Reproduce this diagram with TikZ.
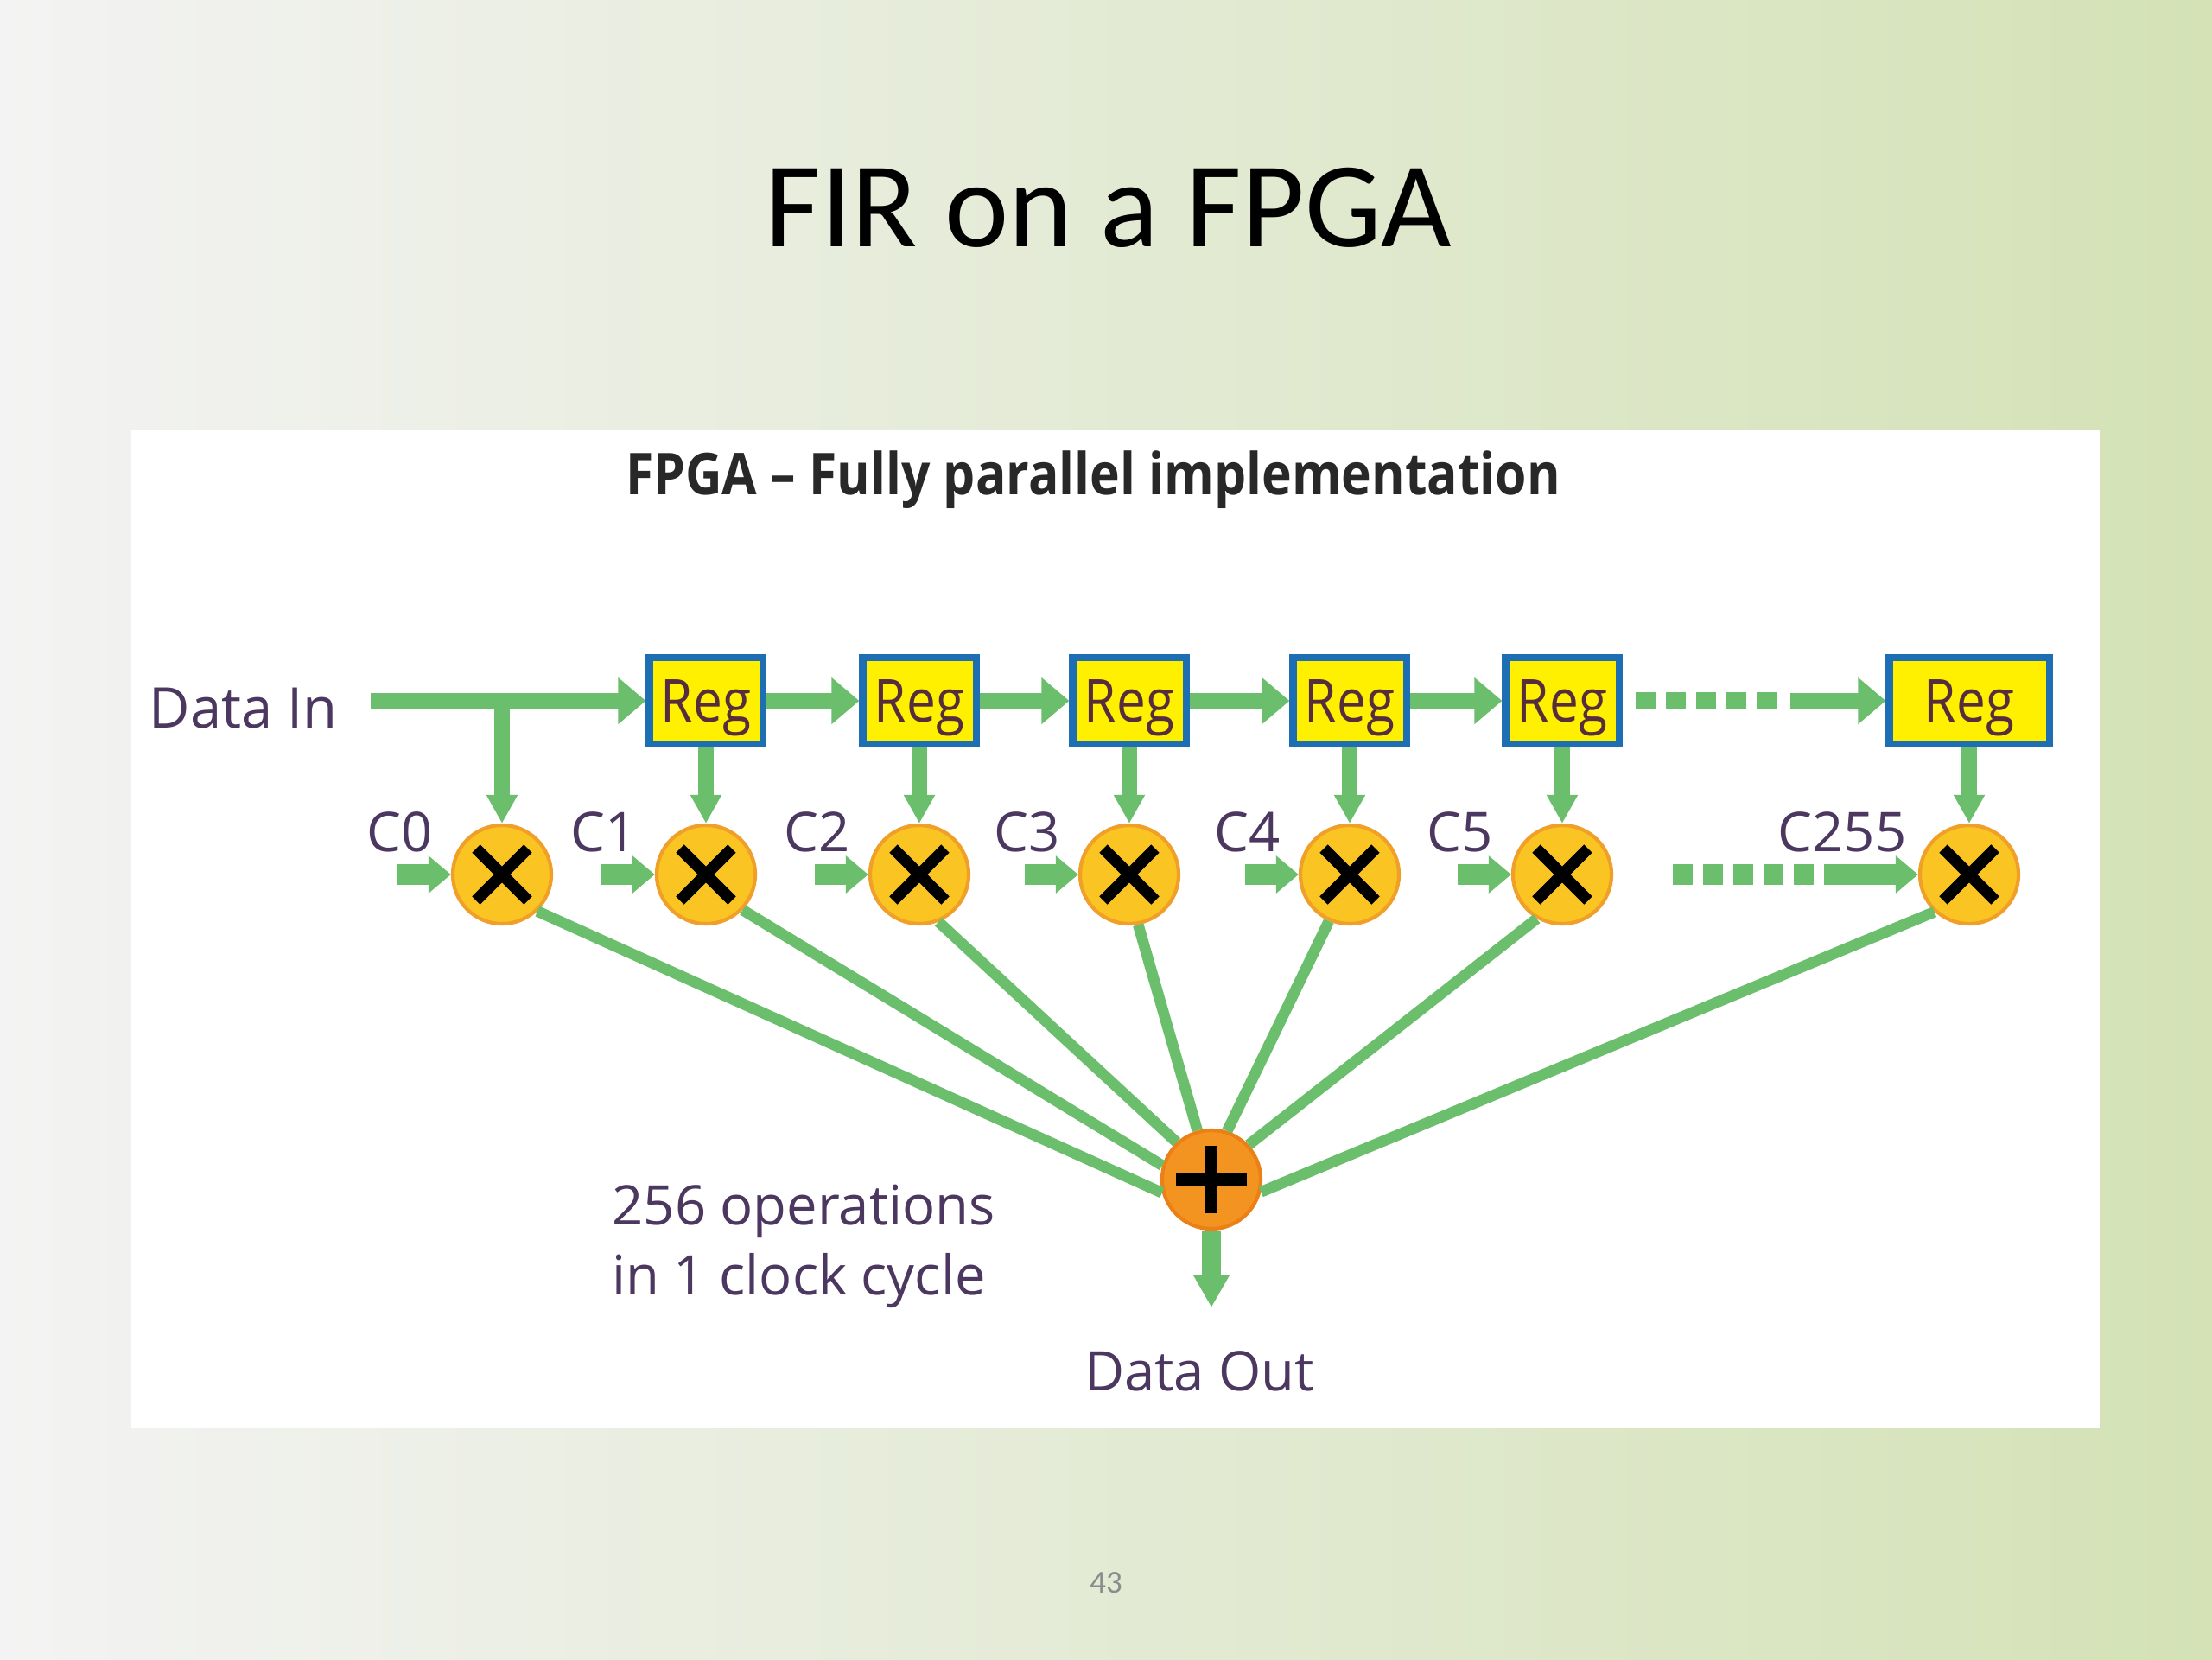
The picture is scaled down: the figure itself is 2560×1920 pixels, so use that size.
\documentclass[tikz,border=0pt]{standalone}
\usepackage{fontspec}
\setmainfont{Open Sans}
\newfontfamily\titlefont{Carlito}
\newfontfamily\narrowfont[FakeStretch=0.88]{Open Sans}
\usetikzlibrary{arrows.meta}
\definecolor{bgL}{RGB}{243,243,243}
\definecolor{bgR}{RGB}{212,226,182}
\definecolor{flow}{RGB}{106,190,108}
\definecolor{regblue}{RGB}{30,110,180}
\definecolor{regfill}{RGB}{255,240,0}
\definecolor{multfill}{RGB}{250,196,35}
\definecolor{multedge}{RGB}{240,160,40}
\definecolor{addfill}{RGB}{243,148,32}
\definecolor{addedge}{RGB}{236,128,24}
\definecolor{labelc}{RGB}{75,55,95}
\definecolor{regtext}{RGB}{85,45,60}
\definecolor{subc}{RGB}{40,40,40}
\definecolor{pagec}{RGB}{140,140,140}
\begin{document}
\begin{tikzpicture}[x=0.01cm,y=-0.01cm,
  regbox/.style={rectangle, draw=regblue, line width=2.3pt, fill=regfill,
    minimum width=1.31cm, minimum height=1.0cm, inner sep=0pt, text depth=0pt,
    font=\narrowfont\fontsize{19.5pt}{22pt}\selectfont, text=regtext},
  mult/.style={circle, fill=multfill, draw=multedge, line width=1.2pt,
    minimum size=1.14cm, inner sep=0pt,
    path picture={\draw[line width=3.8pt, black]
      ([shift={(-30,-30)}]path picture bounding box.center) -- ([shift={(30,30)}]path picture bounding box.center)
      ([shift={(-30,30)}]path picture bounding box.center) -- ([shift={(30,-30)}]path picture bounding box.center);}},
  adder/.style={circle, fill=addfill, draw=addedge, line width=1.2pt,
    minimum size=1.14cm, inner sep=0pt,
    path picture={\draw[line width=3.8pt, black]
      ([shift={(-41,0)}]path picture bounding box.center) -- ([shift={(41,0)}]path picture bounding box.center)
      ([shift={(0,-39)}]path picture bounding box.center) -- ([shift={(0,39)}]path picture bounding box.center);}},
  lbl/.style={text=labelc, font=\fontsize{18pt}{21pt}\selectfont, inner sep=0pt},
  bigarrow/.style={draw=flow, line width=5.4pt, -{Triangle[width=0.52cm,length=0.32cm]}},
  varrow/.style={draw=flow, line width=5pt, -{Triangle[width=0.34cm,length=0.33cm]}},
  carrow/.style={draw=flow, line width=6.8pt, -{Triangle[width=0.42cm,length=0.26cm]}},
  outarrow/.style={draw=flow, line width=6pt, -{Triangle[width=0.40cm,length=0.38cm]}},
  dashflow/.style={draw=flow, line width=5.6pt, dash pattern=on 0.23cm off 0.12cm},
  cdashflow/.style={draw=flow, line width=7pt, dash pattern=on 0.23cm off 0.12cm},
  fanline/.style={draw=flow, line width=3.6pt}]

% background and panel
\useasboundingbox (0,0) rectangle (2560,1920);
\shade[left color=bgL, right color=bgR] (0,0) rectangle (2560,1920);
\fill[white] (152,498) rectangle (2430,1652);

% titles
\node[font=\titlefont\fontsize{40pt}{48pt}\selectfont, anchor=base, inner sep=0pt] (title) at (1283,285) {FIR on a FPGA};
\node[font=\narrowfont\bfseries\fontsize{19pt}{23pt}\selectfont, text=subc, anchor=base, inner sep=0pt] (sub) at (1265,572) {FPGA – Fully parallel implementation};
\node[font=\titlefont\fontsize{10.5pt}{12pt}\selectfont, text=pagec, inner sep=0pt] (page) at (1280,1832) {43};

% registers
\node[regbox] (r1) at (817,811) {Reg};
\node[regbox] (r2) at (1064,811) {Reg};
\node[regbox] (r3) at (1307,811) {Reg};
\node[regbox] (r4) at (1562,811) {Reg};
\node[regbox] (r5) at (1808,811) {Reg};
\node[regbox, minimum width=1.85cm] (r6) at (2279,811) {Reg};

% multipliers
\node[mult] (m0) at (581,1012) {};
\node[mult] (m1) at (817,1012) {};
\node[mult] (m2) at (1064,1012) {};
\node[mult] (m3) at (1307,1012) {};
\node[mult] (m4) at (1562,1012) {};
\node[mult] (m5) at (1808,1012) {};
\node[mult] (m6) at (2279,1012) {};

% adder
\node[adder] (add) at (1402,1365) {};

% labels
\node[lbl, anchor=base west, font=\fontsize{18.5pt}{21pt}\selectfont] (din) at (172,842) {Data In};
\node[lbl, anchor=base east] (c0) at (501,985) {C0};
\node[lbl, anchor=base east] (c1) at (737,985) {C1};
\node[lbl, anchor=base east] (c2) at (984,985) {C2};
\node[lbl, anchor=base east] (c3) at (1227,985) {C3};
\node[lbl, anchor=base east] (c4) at (1482,985) {C4};
\node[lbl, anchor=base east] (c5) at (1728,985) {C5};
\node[lbl, anchor=base east] (c255) at (2207,985) {C255};
\node[lbl, anchor=base west] (ops1) at (708,1417) {256 operations};
\node[lbl, anchor=base west] (ops2) at (708,1498) {in 1 clock cycle};
\node[lbl, anchor=base] (dout) at (1388,1609) {Data Out};

% coordinates for free ends
\coordinate (dinS) at (429,811);
\coordinate (br) at (581,811);
\coordinate (tdA) at (1893,811);
\coordinate (tdB) at (2056,811);
\coordinate (tdC) at (2072,811);
\coordinate (bdA) at (1936,1012);
\coordinate (bdB) at (2099,1012);
\coordinate (bdC) at (2111,1012);
\coordinate (cs0) at (460,1012);
\coordinate (cs1) at (696,1012);
\coordinate (cs2) at (943,1012);
\coordinate (cs3) at (1186,1012);
\coordinate (cs4) at (1441,1012);
\coordinate (cs5) at (1687,1012);
\coordinate (outE) at (1402,1513);

% data line and register chain
\draw[bigarrow] (dinS) -- (r1);
\draw[varrow] (br) -- (m0);
\draw[bigarrow] (r1) -- (r2);
\draw[bigarrow] (r2) -- (r3);
\draw[bigarrow] (r3) -- (r4);
\draw[bigarrow] (r4) -- (r5);
\draw[dashflow] (tdA) -- (tdB);
\draw[bigarrow] (tdC) -- (r6);

% register to multiplier
\draw[varrow] (r1) -- (m1);
\draw[varrow] (r2) -- (m2);
\draw[varrow] (r3) -- (m3);
\draw[varrow] (r4) -- (m4);
\draw[varrow] (r5) -- (m5);
\draw[varrow] (r6) -- (m6);

% coefficients
\draw[carrow] (cs0) -- (m0);
\draw[carrow] (cs1) -- (m1);
\draw[carrow] (cs2) -- (m2);
\draw[carrow] (cs3) -- (m3);
\draw[carrow] (cs4) -- (m4);
\draw[carrow] (cs5) -- (m5);
\draw[cdashflow] (bdA) -- (bdB);
\draw[carrow] (bdC) -- (m6);

% fan into adder
\draw[fanline] (m0.-46) -- (add.195);
\draw[fanline] (m1.-44) -- (add.164);
\draw[fanline] (m2.-68) -- (add.133);
\draw[fanline] (m3.-80) -- (add.106);
\draw[fanline] (m4.246) -- (add.72);
\draw[fanline] (m5.240) -- (add.43);
\draw[fanline] (m6.227) -- (add.346);

% output
\draw[outarrow] (add) -- (outE);
\end{tikzpicture}
\end{document}
